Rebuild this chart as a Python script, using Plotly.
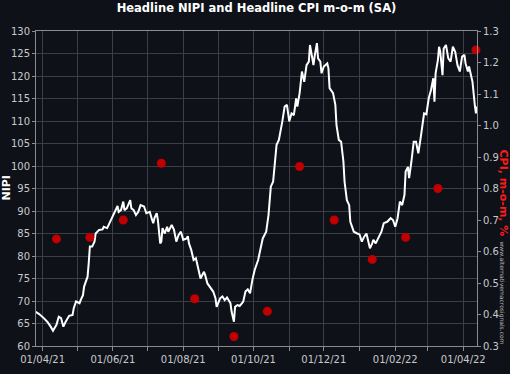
import plotly.graph_objects as go

nipi_dates = [
    "2021-03-26", "2021-03-29", "2021-04-02", "2021-04-05", "2021-04-08", "2021-04-10", "2021-04-13",
    "2021-04-15", "2021-04-17", "2021-04-19", "2021-04-21", "2021-04-24", "2021-04-27", "2021-04-28",
    "2021-04-30", "2021-05-03", "2021-05-04", "2021-05-06", "2021-05-07", "2021-05-09", "2021-05-10",
    "2021-05-11", "2021-05-12", "2021-05-14", "2021-05-16", "2021-05-17", "2021-05-20", "2021-05-23",
    "2021-05-24", "2021-05-27", "2021-05-29", "2021-06-01", "2021-06-04", "2021-06-05", "2021-06-06",
    "2021-06-08", "2021-06-10", "2021-06-11", "2021-06-13", "2021-06-16", "2021-06-17", "2021-06-19",
    "2021-06-21", "2021-06-23", "2021-06-25", "2021-06-28", "2021-06-30", "2021-07-03", "2021-07-05",
    "2021-07-06", "2021-07-07", "2021-07-09", "2021-07-10", "2021-07-12", "2021-07-13", "2021-07-14",
    "2021-07-16", "2021-07-18", "2021-07-19", "2021-07-22", "2021-07-24", "2021-07-26", "2021-07-28",
    "2021-07-30", "2021-08-01", "2021-08-04", "2021-08-05", "2021-08-06", "2021-08-08", "2021-08-10",
    "2021-08-12", "2021-08-14", "2021-08-16", "2021-08-19", "2021-08-20", "2021-08-22", "2021-08-24",
    "2021-08-27", "2021-08-29", "2021-08-30", "2021-09-02", "2021-09-04", "2021-09-06", "2021-09-08",
    "2021-09-11", "2021-09-12", "2021-09-14", "2021-09-15", "2021-09-17", "2021-09-19", "2021-09-22",
    "2021-09-24", "2021-09-26", "2021-09-28", "2021-09-30", "2021-10-02", "2021-10-05", "2021-10-06",
    "2021-10-08", "2021-10-09", "2021-10-12", "2021-10-14", "2021-10-16", "2021-10-18", "2021-10-21",
    "2021-10-23", "2021-10-26", "2021-10-28", "2021-10-30", "2021-11-01", "2021-11-03", "2021-11-05",
    "2021-11-07", "2021-11-08", "2021-11-10", "2021-11-12", "2021-11-14", "2021-11-16", "2021-11-18",
    "2021-11-19", "2021-11-21", "2021-11-22", "2021-11-23", "2021-11-25", "2021-11-26", "2021-11-28",
    "2021-11-29", "2021-12-01", "2021-12-04", "2021-12-05", "2021-12-06", "2021-12-09", "2021-12-11",
    "2021-12-12", "2021-12-14", "2021-12-16", "2021-12-18", "2021-12-19", "2021-12-21", "2021-12-23",
    "2021-12-24", "2021-12-27", "2021-12-30", "2022-01-01", "2022-01-03", "2022-01-05", "2022-01-07",
    "2022-01-09", "2022-01-10", "2022-01-12", "2022-01-13", "2022-01-15", "2022-01-17", "2022-01-20",
    "2022-01-22", "2022-01-25", "2022-01-28", "2022-01-30", "2022-02-01", "2022-02-03", "2022-02-05",
    "2022-02-07", "2022-02-09", "2022-02-10", "2022-02-12", "2022-02-13", "2022-02-15", "2022-02-17",
    "2022-02-19", "2022-02-21", "2022-02-23", "2022-02-25", "2022-02-26", "2022-02-28", "2022-03-02",
    "2022-03-04", "2022-03-06", "2022-03-07", "2022-03-08", "2022-03-10", "2022-03-11", "2022-03-12",
    "2022-03-14", "2022-03-15", "2022-03-17", "2022-03-19", "2022-03-21", "2022-03-23", "2022-03-25",
    "2022-03-27", "2022-03-29", "2022-03-31", "2022-04-02", "2022-04-03", "2022-04-05", "2022-04-06",
    "2022-04-08", "2022-04-09", "2022-04-11", "2022-04-12", "2022-04-13",
]
nipi_values = [
    67.6, 67.1, 66.2, 65.4, 64.3, 63.4, 64.7,
    66.5, 66.2, 64.3, 65.4, 66.7, 66.9, 68.4,
    69.9, 69.5, 70.2, 71.3, 73.2, 74.8, 75.4,
    78.4, 82.1, 82.1, 83.2, 85.0, 85.8, 85.9,
    86.5, 86.2, 87.3, 88.7, 90.6, 91.1, 89.8,
    90.2, 92.1, 90.2, 90.6, 92.4, 90.6, 90.2,
    89.1, 89.8, 91.3, 91.0, 89.5, 89.8, 88.0,
    87.3, 88.4, 89.5, 88.0, 82.8, 83.2, 86.2,
    85.0, 86.5, 85.4, 86.9, 85.8, 83.2, 84.7,
    85.4, 83.6, 83.9, 84.4, 82.8, 81.3, 79.1,
    79.5, 77.3, 75.0, 76.5, 75.8, 73.9, 73.2,
    72.1, 70.6, 68.7, 70.6, 71.0, 70.2, 70.8,
    69.5, 67.6, 65.4, 68.7, 69.1, 68.9, 69.8,
    72.1, 72.6, 71.7, 74.7, 76.9, 79.1, 80.2,
    83.0, 83.9, 85.4, 89.1, 95.4, 96.5, 104.7,
    105.8, 109.9, 113.2, 113.6, 109.9, 111.7, 111.3,
    115.0, 113.2, 116.2, 121.0, 118.7, 122.4, 123.2,
    126.9, 123.9, 122.4, 124.3, 127.3, 123.9, 123.2,
    120.6, 122.1, 122.8, 121.7, 117.3, 116.2, 113.6,
    109.1, 105.8, 105.4, 101.0, 96.5, 92.4, 91.3,
    87.6, 85.4, 85.0, 84.8, 83.2, 84.3, 85.0,
    82.8, 81.7, 82.8, 83.6, 82.8, 83.9, 85.4,
    87.3, 87.6, 88.4, 88.0, 86.5, 88.4, 92.1,
    91.3, 93.6, 98.8, 99.8, 97.3, 101.0, 105.4,
    105.4, 102.8, 106.2, 109.9, 111.7, 111.5, 115.0,
    116.9, 119.5, 114.3, 120.6, 123.6, 126.5, 125.4,
    120.2, 126.1, 126.9, 123.9, 123.2, 126.5, 125.4,
    122.4, 121.0, 124.3, 124.7, 122.8, 121.0, 122.1,
    120.2, 118.7, 113.6, 111.7, 113.2,
]

cpi_dates = [
    "2021-04-13", "2021-05-12", "2021-06-10", "2021-07-13", "2021-08-11", "2021-09-14", "2021-10-13",
    "2021-11-10", "2021-12-10", "2022-01-12", "2022-02-10", "2022-03-10", "2022-04-12",
]
cpi_values = [0.64, 0.645, 0.70, 0.88, 0.45, 0.33, 0.41, 0.87, 0.70, 0.575, 0.645, 0.80, 1.24]

month_ticks = [
    "2021-04-01", "2021-05-01", "2021-06-01", "2021-07-01", "2021-08-01", "2021-09-01", "2021-10-01",
    "2021-11-01", "2021-12-01", "2022-01-01", "2022-02-01", "2022-03-01", "2022-04-01",
]
month_labels = ["01/04/21", "", "01/06/21", "", "01/08/21", "", "01/10/21", "",
                "01/12/21", "", "01/02/22", "", "01/04/22"]

BG = "#0f1119"
GRID = "#3b3e46"
AXIS = "#8a8c92"
TICKF = dict(family="DejaVu Sans", size=10, color="#c8c9cc")

fig = go.Figure()
fig.add_trace(go.Scatter(x=nipi_dates, y=nipi_values, mode="lines",
                         line=dict(color="white", width=2), name="NIPI", yaxis="y"))
fig.add_trace(go.Scatter(x=cpi_dates, y=cpi_values, mode="markers",
                         marker=dict(color="#c00000", size=9), name="CPI", yaxis="y2",
                         cliponaxis=False))

fig.update_layout(
    width=510, height=374,
    margin=dict(l=36, r=33, t=31, b=28, autoexpand=False),
    paper_bgcolor=BG, plot_bgcolor=BG,
    showlegend=False,
    font=dict(family="DejaVu Sans", color="white"),
    title=dict(text="<b>Headline NIPI and Headline CPI m-o-m (SA)</b>",
               x=0.5, xanchor="center", xref="paper", y=0.99, yanchor="top",
               font=dict(family="DejaVu Sans", size=11.5, color="white")),
    xaxis=dict(
        type="date", range=["2021-03-26 06:00", "2022-04-12 22:00"],
        tickmode="array", tickvals=month_ticks, ticktext=month_labels,
        showgrid=True, gridcolor=GRID, gridwidth=1,
        showline=True, linecolor=AXIS, linewidth=1, mirror=True,
        ticks="outside", ticklen=4, tickcolor=AXIS,
        tickfont=TICKF, zeroline=False, automargin=False,
    ),
    yaxis=dict(
        range=[60, 130], dtick=5, tick0=60,
        showgrid=True, gridcolor=GRID, gridwidth=1,
        showline=True, linecolor=AXIS, linewidth=1, mirror=True,
        ticks="outside", ticklen=3, tickcolor=AXIS,
        tickfont=TICKF, zeroline=False, automargin=False,
    ),
    yaxis2=dict(
        range=[0.3, 1.3], dtick=0.1, tick0=0.3, tickformat=".1f",
        overlaying="y", side="right", showgrid=False,
        showline=True, linecolor=AXIS, linewidth=1,
        ticks="outside", ticklen=3, tickcolor=AXIS,
        tickfont=TICKF, zeroline=False, automargin=False,
    ),
    annotations=[
        dict(text="<b>NIPI</b>", xref="paper", yref="paper", x=0.0, y=0.5,
             xanchor="center", yanchor="middle",
             xshift=-30, textangle=-90, showarrow=False,
             font=dict(family="DejaVu Sans", size=11, color="white")),
        dict(text="<b>CPI, m-o-m, %</b>", xref="paper", yref="paper", x=1.0, y=0.5,
             xanchor="center", yanchor="middle",
             xshift=26, yshift=-4, textangle=90, showarrow=False,
             font=dict(family="DejaVu Sans", size=11, color="#ff1a1a")),
        dict(text="www.alternativemacrosignals.com", xref="paper", yref="paper",
             x=1.0, y=0.17, xanchor="center", yanchor="middle",
             xshift=25, textangle=90, showarrow=False,
             font=dict(family="DejaVu Sans", size=6, color="#b0b2b6")),
    ],
)

fig.write_html("out.html", config={"displayModeBar": False},
               post_script="document.body.style.margin='0';document.body.style.background='#0f1119';")
